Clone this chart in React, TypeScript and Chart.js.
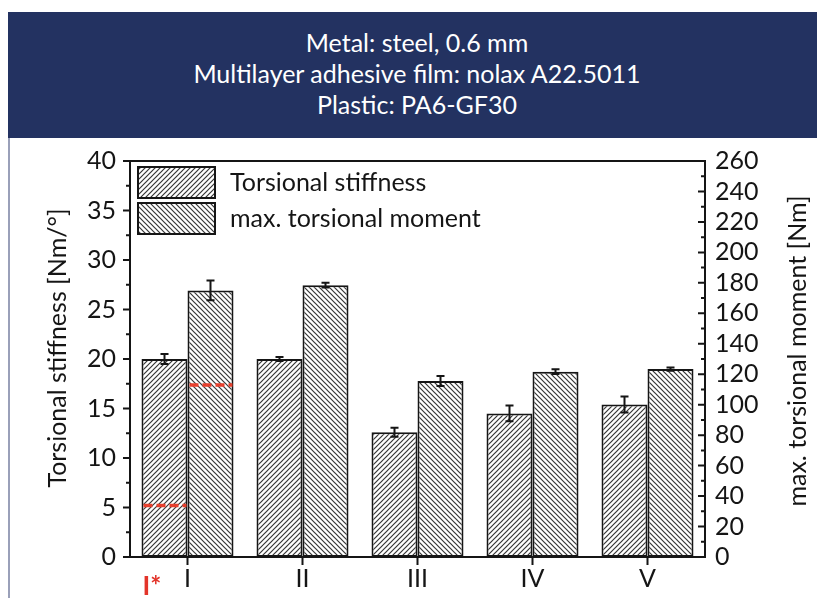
import React, { useEffect, useRef } from 'react';
import { Chart, registerables } from 'chart.js';

Chart.register(...registerables);

// ---- data ----
const headerLines = ['Metal: steel, 0.6 mm', 'Multilayer adhesive film: nolax A22.5011', 'Plastic: PA6-GF30'];
const categories = ['I', 'II', 'III', 'IV', 'V'];
const stiffness = [20.0, 20.0, 12.6, 14.5, 15.4];
const stiffnessErr = [0.5, 0.2, 0.45, 0.8, 0.8];
const moment = [175, 178.5, 115.5, 121.7, 123.4];
const momentErr = [6.5, 1.5, 3.3, 1.5, 1.1];
const stiffnessRefLine = [5.2, null, null, null, null];
const momentRefLine = [113, null, null, null, null];
const referenceLabel = 'I*';
const seriesLabels = ['Torsional stiffness', 'max. torsional moment'];
const leftTitle = 'Torsional stiffness [Nm/°]';
const rightTitle = 'max. torsional moment [Nm]';
const leftMin = 0, leftMax = 40, leftStep = 5, leftMinor = 2.5;
const rightMin = 0, rightMax = 260, rightStep = 20, rightMinor = 10;

const FONT = 'Lato';
const INK = '#151515';

function makeHatch(dir: number): CanvasPattern {
  const s = 5;
  const c = document.createElement('canvas');
  c.width = s;
  c.height = s;
  const g = c.getContext('2d')!;
  g.fillStyle = '#ffffff';
  g.fillRect(0, 0, s, s);
  g.strokeStyle = '#363636';
  g.lineWidth = 1.2;
  g.beginPath();
  if (dir > 0) {
    g.moveTo(0, s); g.lineTo(s, 0);
    g.moveTo(-1, 1); g.lineTo(1, -1);
    g.moveTo(s - 1, s + 1); g.lineTo(s + 1, s - 1);
  } else {
    g.moveTo(0, 0); g.lineTo(s, s);
    g.moveTo(-1, s - 1); g.lineTo(1, s + 1);
    g.moveTo(s - 1, -1); g.lineTo(s + 1, 1);
  }
  g.stroke();
  return g.createPattern(c, 'repeat')!;
}

export default function App() {
  const ref = useRef<HTMLCanvasElement | null>(null);

  useEffect(() => {
    const canvas = ref.current!;
    const hatchA = makeHatch(1);
    const hatchB = makeHatch(-1);

    const decor = {
      id: 'decor',
      afterDatasetsDraw(chart: any) {
        const ctx = chart.ctx as CanvasRenderingContext2D;
        const { left, right, top, bottom } = chart.chartArea;
        const x = chart.scales.x;
        const y = chart.scales.y;
        const y1 = chart.scales.y1;
        ctx.save();

        // error bars
        const drawErr = (meta: any, vals: number[], errs: number[], sc: any) => {
          meta.data.forEach((bar: any, i: number) => {
            const yt = sc.getPixelForValue(vals[i] + errs[i]);
            const yb = sc.getPixelForValue(vals[i] - errs[i]);
            ctx.strokeStyle = INK;
            ctx.lineWidth = 2;
            ctx.beginPath();
            ctx.moveTo(bar.x, yt); ctx.lineTo(bar.x, yb);
            ctx.moveTo(bar.x - 4, yt); ctx.lineTo(bar.x + 4, yt);
            ctx.moveTo(bar.x - 4, yb); ctx.lineTo(bar.x + 4, yb);
            ctx.stroke();
          });
        };
        drawErr(chart.getDatasetMeta(0), stiffness, stiffnessErr, y);
        drawErr(chart.getDatasetMeta(1), moment, momentErr, y1);

        // red reference dashes
        const drawRef = (meta: any, vals: (number | null)[], sc: any) => {
          meta.data.forEach((bar: any, i: number) => {
            const v = vals[i];
            if (v == null) return;
            const py = sc.getPixelForValue(v);
            ctx.strokeStyle = '#e8402e';
            ctx.lineWidth = 3.5;
            ctx.setLineDash([9, 4]);
            ctx.beginPath();
            ctx.moveTo(bar.x - bar.width / 2 + 2, py);
            ctx.lineTo(bar.x + bar.width / 2 - 1, py);
            ctx.stroke();
            ctx.setLineDash([]);
          });
        };
        drawRef(chart.getDatasetMeta(0), stiffnessRefLine, y);
        drawRef(chart.getDatasetMeta(1), momentRefLine, y1);

        // frame
        ctx.strokeStyle = INK;
        ctx.lineWidth = 2;
        ctx.strokeRect(left, top, right - left, bottom - top);

        // ticks
        ctx.beginPath();
        for (let v = leftMin; v <= leftMax + 1e-9; v += leftMinor) {
          const py = y.getPixelForValue(v);
          const len = Math.abs(v % leftStep) < 1e-9 ? 7 : 4;
          ctx.moveTo(left - len, py); ctx.lineTo(left, py);
        }
        for (let v = rightMin; v <= rightMax + 1e-9; v += rightMinor) {
          const py = y1.getPixelForValue(v);
          const len = Math.abs(v % rightStep) < 1e-9 ? 7 : 4;
          ctx.moveTo(right - len, py); ctx.lineTo(right, py);
        }
        categories.forEach((_, i) => {
          const px = x.getPixelForValue(i);
          ctx.moveTo(px, bottom); ctx.lineTo(px, bottom + 8);
        });
        ctx.stroke();

        // axis titles
        ctx.fillStyle = INK;
        ctx.font = `25px ${FONT}`;
        ctx.textAlign = 'center';
        ctx.textBaseline = 'alphabetic';
        const mid = (top + bottom) / 2;
        ctx.save();
        ctx.translate(66, mid - 11);
        ctx.rotate(-Math.PI / 2);
        ctx.fillText(leftTitle, 0, 0);
        ctx.restore();
        ctx.save();
        ctx.translate(806, mid - 8);
        ctx.rotate(-Math.PI / 2);
        ctx.fillText(rightTitle, 0, 0);
        ctx.restore();

        // legend
        const pats = [hatchA, hatchB];
        chart.data.datasets.forEach((ds: any, i: number) => {
          const bx = left + 8;
          const by = top + 6 + i * 36;
          ctx.fillStyle = pats[i];
          ctx.fillRect(bx, by, 77, 31);
          ctx.strokeStyle = INK;
          ctx.lineWidth = 2;
          ctx.strokeRect(bx, by, 77, 31);
          ctx.fillStyle = INK;
          ctx.textAlign = 'left';
          ctx.textBaseline = 'middle';
          ctx.font = `25px ${FONT}`;
          ctx.fillText(ds.label, left + 100, by + 16);
        });

        // red reference marker label
        ctx.fillStyle = '#e3342a';
        ctx.font = `bold 26px ${FONT}`;
        ctx.textAlign = 'left';
        ctx.textBaseline = 'alphabetic';
        ctx.fillText(referenceLabel, x.getPixelForValue(0) - 45, bottom + 38);

        ctx.restore();
      },
    };

    const tickFont = { family: FONT, size: 25 };
    const noPad = (s: any) => { s.paddingTop = 0; s.paddingBottom = 0; s.paddingLeft = 0; s.paddingRight = 0; };
    const chart = new Chart(canvas, {
      type: 'bar',
      data: {
        labels: categories,
        datasets: [
          {
            label: seriesLabels[0],
            data: stiffness,
            yAxisID: 'y',
            backgroundColor: hatchA,
            borderColor: INK,
            borderWidth: 2,
            borderSkipped: false,
            categoryPercentage: 0.8,
            barPercentage: 1,
          },
          {
            label: seriesLabels[1],
            data: moment,
            yAxisID: 'y1',
            backgroundColor: hatchB,
            borderColor: INK,
            borderWidth: 2,
            borderSkipped: false,
            categoryPercentage: 0.8,
            barPercentage: 1,
          },
        ],
      },
      options: {
        animation: false,
        responsive: false,
        devicePixelRatio: 1,
        layout: { padding: { top: 23, left: 0, right: 0, bottom: 0 } },
        plugins: { legend: { display: false }, tooltip: { enabled: false } },
        scales: {
          x: {
            type: 'category',
            offset: true,
            grid: { display: false, drawTicks: false, offset: false },
            border: { display: false },
            ticks: { font: tickFont, color: INK, padding: 7, maxRotation: 0 },
            afterFit: (s: any) => { s.height = 41; noPad(s); },
          },
          y: {
            position: 'left',
            min: leftMin,
            max: leftMax,
            grid: { display: false, drawTicks: false },
            border: { display: false },
            ticks: { stepSize: leftStep, font: tickFont, color: INK, padding: 14, autoSkip: false },
            afterFit: (s: any) => { s.width = 130; noPad(s); },
          },
          y1: {
            position: 'right',
            min: rightMin,
            max: rightMax,
            grid: { display: false, drawTicks: false },
            border: { display: false },
            ticks: { stepSize: rightStep, font: tickFont, color: INK, padding: 10, autoSkip: false },
            afterFit: (s: any) => { s.width = 112; noPad(s); },
          },
        },
      },
      plugins: [decor],
    } as any);
    return () => chart.destroy();
  }, []);

  return (
    <div style={{ position: 'absolute', left: 0, top: 0, width: 817, height: 598, background: '#fff', overflow: 'hidden' }}>
      <div
        style={{
          position: 'absolute', left: 8, top: 12, width: 809, height: 126, boxSizing: 'border-box',
          background: '#233261', color: '#ffffff', fontFamily: FONT, fontSize: 25, lineHeight: '31px',
          textAlign: 'center', paddingTop: 15, paddingLeft: 9,
        }}
      >
        {headerLines.map((l) => (<div key={l}>{l}</div>))}
      </div>
      <div style={{ position: 'absolute', left: 8, top: 138, width: 2, height: 460, background: '#9aa0b9' }} />
      <canvas ref={ref} width={817} height={460} style={{ position: 'absolute', left: 0, top: 138, width: 817, height: 460 }} />
    </div>
  );
}
